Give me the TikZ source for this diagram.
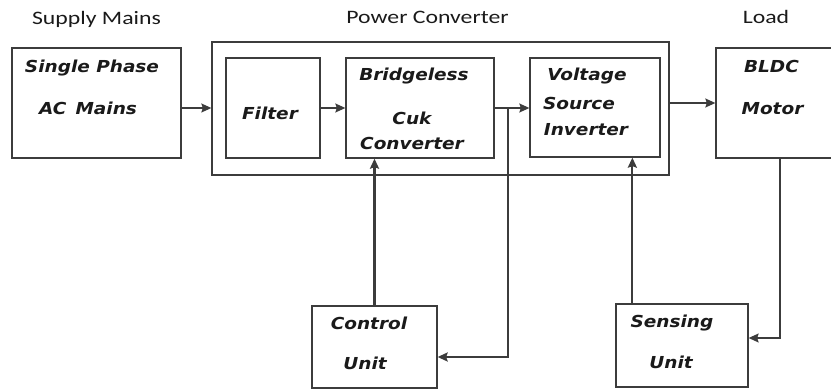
\documentclass[tikz,border=0pt]{standalone}
\usepackage{fontspec}
\usetikzlibrary{arrows.meta}
\setmainfont{Carlito}
\newfontfamily\headfont[FakeStretch=1.25]{Carlito}
\newfontfamily\boxfont[FakeStretch=1.12]{DejaVu Sans}
\definecolor{linegray}{HTML}{3C3C3C}
\definecolor{inkgray}{HTML}{1A1A1A}
\tikzset{
  block/.style={draw=linegray, line width=1.3pt, inner sep=0pt},
  boxtxt/.style={inner sep=0pt, text height=12pt, text depth=0pt, text=inkgray,
    font=\boxfont\bfseries\itshape\fontsize{16.5}{18}\selectfont},
  headtxt/.style={inner sep=0pt, text height=12.5pt, text depth=0pt, text=inkgray,
    font=\headfont\fontsize{19}{21}\selectfont},
  flow/.style={draw=linegray, line width=1.3pt, -{Stealth[length=10pt,width=9pt,inset=1.5pt]}},
  fback/.style={draw=linegray, line width=2.2pt, -{Stealth[length=10pt,width=9pt,inset=1.5pt]}}
}
\begin{document}
\begin{tikzpicture}[x=1pt, y=-1pt, line join=miter]
  \useasboundingbox (0,0) rectangle (831,390);
  \clip (0,0) rectangle (831,390);
  \node[block, minimum width=169pt, minimum height=110pt] (supply) at (96.5,103) {};
  \node[block, minimum width=457pt, minimum height=133pt] (conv) at (440.5,108.5) {};
  \node[block, minimum width=94pt, minimum height=100pt] (filter) at (273,108) {};
  \node[block, minimum width=148pt, minimum height=100pt] (cuk) at (420,108) {};
  \node[block, minimum width=130pt, minimum height=99pt] (vsi) at (595,107.5) {};
  \node[block, minimum width=134pt, minimum height=110pt] (bldc) at (783,103) {};
  \node[block, minimum width=125pt, minimum height=82pt] (ctrl) at (374.5,347) {};
  \node[block, minimum width=132pt, minimum height=83pt] (sense) at (682,345.5) {};

  \node[headtxt] (h-supply) at (96.5,18) {Supply Mains};
  \node[headtxt] (h-conv) at (427.5,17) {Power Converter};
  \node[headtxt] (h-load) at (766,17) {Load};

  \node[boxtxt] (supply-a) at (92,67) {Single Phase};
  \node[boxtxt] (supply-b) at (88,109) {AC\, Mains};
  \node[boxtxt] (filter-a) at (270,114) {Filter};
  \node[boxtxt] (cuk-a) at (414,75) {Bridgeless};
  \node[boxtxt] (cuk-b) at (412,119) {Cuk};
  \node[boxtxt] (cuk-c) at (412,144) {Converter};
  \node[boxtxt] (vsi-a) at (587,75) {Voltage};
  \node[boxtxt] (vsi-b) at (579,104) {Source};
  \node[boxtxt] (vsi-c) at (586,130) {Inverter};
  \node[boxtxt] (bldc-a) at (771.5,66.5) {BLDC};
  \node[boxtxt] (bldc-b) at (772.5,108.5) {Motor};
  \node[boxtxt] (ctrl-a) at (369,324) {Control};
  \node[boxtxt] (ctrl-b) at (365,364) {Unit};
  \node[boxtxt] (sense-a) at (672,322) {Sensing};
  \node[boxtxt] (sense-b) at (671,363) {Unit};

  \path
  (508,108) coordinate (tap)
  (780,158) coordinate (motor-out)
  ;
  \draw[flow] (supply.east |- filter) -- (conv.west |- filter);
  \draw[flow] (filter.east) -- (cuk.west |- filter);
  \draw[flow] (cuk.east |- filter) -- (vsi.west |- filter);
  \draw[flow] (conv.east |- bldc) -- (bldc.west);
  \draw[fback] (ctrl.north) -- (ctrl.north |- cuk.south);
  \draw[fback] (tap) |- ([yshift=-10pt]ctrl.east);
  \draw[fback] ([xshift=17pt]sense.north west) -- ([xshift=17pt]sense.north west |- vsi.south);
  \draw[flow] (motor-out) |- ([yshift=7.5pt]sense.east);
\end{tikzpicture}
\end{document}
